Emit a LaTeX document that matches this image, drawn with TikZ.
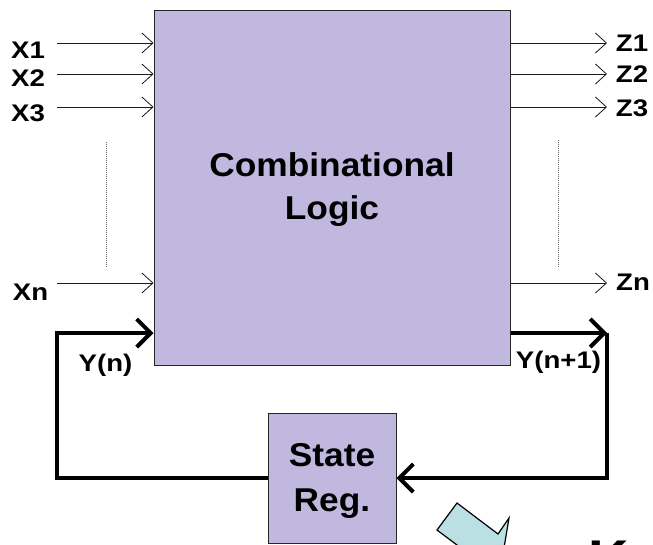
\documentclass[tikz,border=0pt]{standalone}
\usepackage{fontspec}
\setmainfont{Liberation Sans}
\usetikzlibrary{arrows.meta}
\definecolor{logicfill}{RGB}{192,184,222}
\definecolor{hintfill}{RGB}{186,224,228}

\begin{document}
\begin{tikzpicture}[x=1pt,y=-1pt,
  blockbox/.style={draw=black!85, line width=1pt, fill=logicfill, inner sep=0pt},
  bigtext/.style={font=\fontsize{33}{43}\selectfont\bfseries, align=center, inner sep=0pt, xscale=1.07},
  bigtextwide/.style={font=\fontsize{33}{45}\selectfont\bfseries, align=center, inner sep=0pt, xscale=1.07},
  sigtext/.style={font=\fontsize{24}{28}\selectfont\bfseries, inner sep=0pt, xscale=1.15},
  sig/.style={draw=black!90, line width=0.8pt,
    -{Straight Barb[length=11pt,width=20pt,line width=0.8pt]}},
  loopline/.style={draw=black, line width=4pt,
    -{Straight Barb[length=14pt,width=28pt,line width=4pt]}},
  gap/.style={draw=black!60, line width=0.7pt, dash pattern=on 1pt off 1pt}]

  \useasboundingbox (0,0) rectangle (653,544);

  % blocks
  \node[blockbox, minimum width=356pt, minimum height=355pt] (CL) at (332,187.5) {};
  \node[blockbox, minimum width=128pt, minimum height=130pt] (SR) at (332,478) {};
  \node[bigtext] (CLtext) at (332,190) {Combinational\\Logic};
  \node[bigtextwide] (SRtext) at (332,481) {State\\Reg.};

  % primary inputs
  \coordinate (x1s) at (57,43);
  \coordinate (x2s) at (57,74);
  \coordinate (x3s) at (57,107);
  \coordinate (xns) at (57,283);
  \draw[sig] (x1s) -- (CL.west |- x1s);
  \draw[sig] (x2s) -- (CL.west |- x2s);
  \draw[sig] (x3s) -- (CL.west |- x3s);
  \draw[sig] (xns) -- (CL.west |- xns);
  \node[sigtext] (X1) at (28,50.5) {X1};
  \node[sigtext] (X2) at (28,78) {X2};
  \node[sigtext] (X3) at (28,113) {X3};
  \node[sigtext] (Xn) at (30.5,292) {Xn};

  % primary outputs
  \coordinate (z1e) at (607,43);
  \coordinate (z2e) at (607,74);
  \coordinate (z3e) at (607,107);
  \coordinate (zne) at (607,283);
  \draw[sig] (CL.east |- z1e) -- (z1e);
  \draw[sig] (CL.east |- z2e) -- (z2e);
  \draw[sig] (CL.east |- z3e) -- (z3e);
  \draw[sig] (CL.east |- zne) -- (zne);
  \node[sigtext] (Z1) at (632,43) {Z1};
  \node[sigtext] (Z2) at (632,74) {Z2};
  \node[sigtext] (Z3) at (632,108) {Z3};
  \node[sigtext] (Zn) at (633,282) {Zn};

  % elided signals
  \coordinate (gl1) at (106,142);
  \coordinate (gl2) at (106,268);
  \coordinate (gr1) at (558,140);
  \coordinate (gr2) at (558,268);
  \draw[gap] (gl1) -- (gl2);
  \draw[gap] (gr1) -- (gr2);

  % state feedback loop
  \coordinate (ynext) at (607,333);
  \coordinate (lcorner) at (57,478);
  \draw[loopline] (CL.east |- ynext) -- (ynext);
  \draw[loopline] (ynext) -- (ynext |- SR.east) -- (SR.east);
  \draw[loopline] (SR.west) -- (lcorner) -- (lcorner |- ynext) -- (CL.west |- ynext);
  \node[sigtext] (Yn) at (105.5,365) {Y(n)};
  \node[sigtext] (Yn1) at (558.5,362.5) {Y(n+1)};

  % block arrow and lettering running off the lower edge
  \begin{scope}
    \clip (0,0) rectangle (653,544);
    \draw[fill=hintfill, draw=black, line width=1.2pt, line join=miter]
      (457,503) -- (498,534) -- (509,518) -- (502,560) -- (477,560) -- (437,530) -- cycle;
    \node[font=\fontsize{56}{60}\selectfont\bfseries, inner sep=0pt, anchor=base west] (K) at (588,579) {K};
  \end{scope}
\end{tikzpicture}
\end{document}
